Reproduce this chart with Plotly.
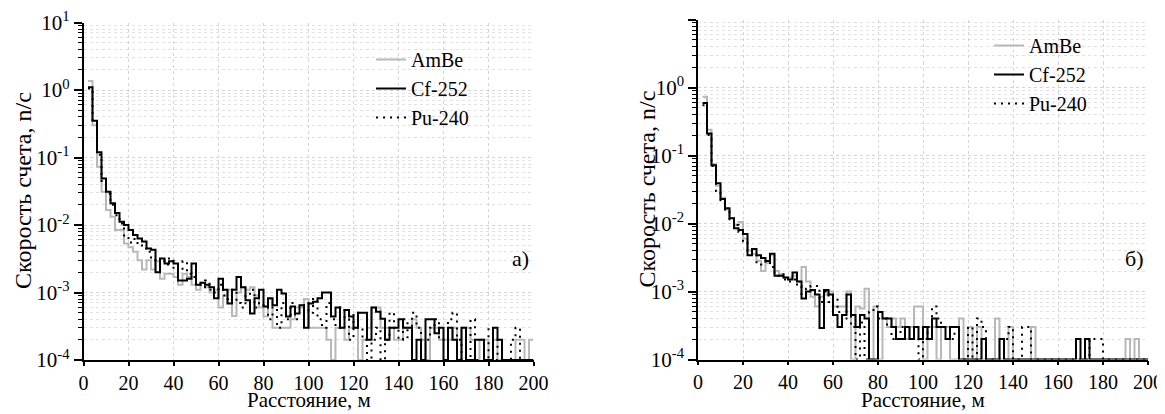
import plotly.graph_objects as go

# ---------------- data (2 m bins starting at 2 m) ----------------
BIN_START = 2
BIN_WIDTH = 2

# Panel a)
a_ambe = [1.36, 0.30, 0.073, 0.031, 0.0167, 0.0133, 0.0084, 0.0084, 0.0053, 0.0047,
          0.0040, 0.0030, 0.0022, 0.0030, 0.0022, 0.0029, 0.0016, 0.0019, 0.0019, 0.0017,
          0.0013, 0.0019, 0.0017, 0.0013, 0.0011, 0.0014, 0.0012, 0.0010, 0.0011, 0.0006,
          0.0009, 0.0011, 0.00045, 0.0010, 0.0012, 0.0011, 0.0012, 0.0009, 0.0006, 0.00044,
          0.0008, 0.0003, 0.0003, 0.0003, 0.0003, 0.0004, 0.0006, 0.0006, 0.0008, 0.0003,
          0.0003, 0.0003, 0.0003, 0.0002, 0.0001, 0.0003, 0.0003, 0.0002, 0.0003, 0.0003,
          0.0001, 0.0002, 0.0003, 0.0006, 0.0006, 0.0003, 0.0003, 0.0003, 0.0002, 0.0002,
          0.0003, 0.0003, 0.0004, 0.0003, 0.0002, 0.0001, 0.0003, 0.0003, 0.0002, 0.0002,
          0.0002, 0.0003, 0.0001, 0.0003, 0.0003, 0.0002, 0.0001, 0.0002, 0.0002, 0.0001,
          0.0002, 0.0001, 0.0001, 0.0001, 0.0001, 0.0002, 0.0002, 0.0001, 0.0002]
a_cf252 = [1.1, 0.35, 0.12, 0.049, 0.031, 0.021, 0.015, 0.0112, 0.0100, 0.0084,
           0.0071, 0.0063, 0.0057, 0.0045, 0.0043, 0.0020, 0.0032, 0.0027, 0.0029, 0.0027,
           0.0015, 0.0015, 0.0016, 0.0027, 0.0013, 0.0014, 0.0013, 0.0012, 0.00082, 0.0016,
           0.0011, 0.00069, 0.0011, 0.0017, 0.0012, 0.00077, 0.00049, 0.00082, 0.0011, 0.00062,
           0.00082, 0.00065, 0.0011, 0.00097, 0.00044, 0.00062, 0.00049, 0.00065, 0.00030, 0.00069,
           0.00073, 0.00082, 0.0010, 0.0010, 0.00044, 0.00060, 0.00030, 0.00055, 0.00044, 0.00030,
           0.00050, 0.00050, 0.00020, 0.00060, 0.00052, 0.00041, 0.00020, 0.00030, 0.00030, 0.00040,
           0.00030, 0.00030, 0.0001, 0.00020, 0.0001, 0.00040, 0.00040, 0.00025, 0.00030, 0.0001,
           0.00030, 0.00020, 0.0001, 0.00030, 0.0001, 0.0001, 0.00020, 0.00020, 0.0001, 0.0001,
           0.00030, 0.00020, 0.0001, 0.0001, 0.0001, 0.0001, 0.0001, 0.0001, 0.0001]
a_pu240 = [1.05, 0.34, 0.11, 0.045, 0.029, 0.020, 0.014, 0.0105, 0.0070, 0.0055,
           0.0062, 0.0052, 0.0045, 0.0040, 0.0030, 0.0028, 0.0030, 0.0026, 0.0032, 0.0022,
           0.0021, 0.0029, 0.0019, 0.0017, 0.0014, 0.0012, 0.0015, 0.0011, 0.0010, 0.0013,
           0.0009, 0.0008, 0.0011, 0.0007, 0.0006, 0.0009, 0.0011, 0.0006, 0.0007, 0.0006,
           0.0004, 0.0006, 0.0003, 0.0007, 0.0004, 0.0007, 0.0004, 0.0004, 0.0007, 0.0005,
           0.0008, 0.0004, 0.0003, 0.0007, 0.0004, 0.0003, 0.0006, 0.0004, 0.0002, 0.0005,
           0.0003, 0.0002, 0.0001, 0.0002, 0.0003, 0.0001, 0.0002, 0.0005, 0.0003, 0.0002,
           0.0004, 0.0002, 0.0005, 0.0003, 0.0002, 0.0002, 0.0003, 0.0004, 0.0002, 0.0002,
           0.0004, 0.0005, 0.0002, 0.0001, 0.0001, 0.0004, 0.0001, 0.0001, 0.0001, 0.0003,
           0.0001, 0.0002, 0.0001, 0.0001, 0.0002, 0.0003, 0.0001, 0.0001, 0.0001]

# Panel б)
b_ambe = [0.73, 0.24, 0.075, 0.036, 0.024, 0.016, 0.012, 0.0095, 0.0105, 0.0060,
          0.0040, 0.0036, 0.0028, 0.0020, 0.0026, 0.0034, 0.0020, 0.0018, 0.0016, 0.0016,
          0.0017, 0.0014, 0.0023, 0.0014, 0.00084, 0.0006, 0.00084, 0.0009, 0.0010, 0.0006,
          0.0006, 0.0006, 0.0010, 0.0001, 0.0006, 0.00056, 0.0011, 0.0001, 0.0006, 0.0001,
          0.0004, 0.0003, 0.0004, 0.0003, 0.0004, 0.0002, 0.0003, 0.0006, 0.0006, 0.0001,
          0.0003, 0.0003, 0.0001, 0.0003, 0.0003, 0.0001, 0.0001, 0.0004, 0.0001, 0.0003,
          0.0001, 0.0003, 0.0001, 0.0001, 0.0001, 0.0004, 0.0001, 0.0001, 0.0003, 0.0001,
          0.0001, 0.0001, 0.0001, 0.0003, 0.0001, 0.0001, 0.0001, 0.0001, 0.0001, 0.0001,
          0.0001, 0.0001, 0.0001, 0.0001, 0.0001, 0.0001, 0.0001, 0.0001, 0.0001, 0.0001,
          0.0001, 0.0001, 0.0001, 0.0001, 0.0002, 0.0001, 0.0002, 0.0001, 0.0001]
b_cf252 = [0.59, 0.21, 0.072, 0.039, 0.023, 0.0167, 0.0119, 0.0085, 0.0080, 0.0070,
           0.0034, 0.0042, 0.0034, 0.0031, 0.0028, 0.0036, 0.0017, 0.0017, 0.0016, 0.0015,
           0.0019, 0.0014, 0.00079, 0.0010, 0.00105, 0.0009, 0.00029, 0.00105, 0.0009, 0.00045,
           0.0003, 0.00045, 0.0009, 0.00045, 0.0003, 0.00045, 0.0004, 0.0001, 0.0001, 0.0005,
           0.0004, 0.0004, 0.0003, 0.0002, 0.0002, 0.0003, 0.0002, 0.0003, 0.0002, 0.0003,
           0.0002, 0.0004, 0.0003, 0.0003, 0.0002, 0.0003, 0.0003, 0.0001, 0.0001, 0.0001,
           0.0001, 0.0001, 0.0002, 0.0001, 0.0001, 0.0001, 0.0002, 0.0001, 0.0001, 0.0001,
           0.0001, 0.0001, 0.0001, 0.0001, 0.0001, 0.0001, 0.0001, 0.0001, 0.0001, 0.0001,
           0.0001, 0.0001, 0.0001, 0.0002, 0.0001, 0.0002, 0.0001, 0.0001, 0.0001, 0.0001,
           0.0001, 0.0001, 0.0001, 0.0001, 0.0001, 0.0001, 0.0001, 0.0001, 0.0001]
b_pu240 = [0.55, 0.20, 0.070, 0.030, 0.022, 0.016, 0.0115, 0.0095, 0.0075, 0.0055,
           0.0040, 0.0036, 0.0026, 0.0025, 0.0028, 0.0023, 0.0017, 0.0018, 0.0015, 0.0014,
           0.0015, 0.0012, 0.00085, 0.0011, 0.0012, 0.0012, 0.0007, 0.0010, 0.0007, 0.0008,
           0.0005, 0.0004, 0.00055, 0.0003, 0.0001, 0.00035, 0.0001, 0.0005, 0.0006, 0.0004,
           0.0004, 0.0003, 0.0002, 0.0002, 0.0003, 0.0002, 0.0002, 0.0002, 0.0001, 0.0002,
           0.0003, 0.0006, 0.0004, 0.0003, 0.0003, 0.0002, 0.0003, 0.0001, 0.0001, 0.0003,
           0.0001, 0.0004, 0.0003, 0.0001, 0.0001, 0.0001, 0.0001, 0.0002, 0.0003, 0.0001,
           0.0001, 0.0003, 0.0003, 0.0001, 0.0001, 0.0001, 0.0001, 0.0001, 0.0001, 0.0001,
           0.0001, 0.0001, 0.0001, 0.0001, 0.0001, 0.0001, 0.0002, 0.0002, 0.0002, 0.0001,
           0.0001, 0.0001, 0.0001, 0.0001, 0.0001, 0.0001, 0.0001, 0.0001, 0.0001]

series_names = ["AmBe", "Cf-252", "Pu-240"]
x_ticks = [0, 20, 40, 60, 80, 100, 120, 140, 160, 180, 200]
y_ticks = [1e-4, 1e-3, 1e-2, 1e-1, 1e0, 1e1]
y_ticktext = ["10<sup>-4</sup>", "10<sup>-3</sup>", "10<sup>-2</sup>",
              "10<sup>-1</sup>", "10<sup>0</sup>", "10<sup>1</sup>"]
y_minor = [k * d for d in [1e-4, 1e-3, 1e-2, 1e-1, 1e0] for k in range(2, 10)]

x_title = "Расстояние, м"
y_title = "Скорость счета, n/с"
panel_labels = ["а)", "б)"]

# ---------------- styling ----------------
FONT = "Liberation Serif, Times New Roman, serif"
styles = [
    dict(color="#b8b8b8", width=2, dash="solid"),
    dict(color="#000000", width=2, dash="solid"),
    dict(color="#000000", width=2, dash="2px,5px"),
]

# The page body has an 8 px margin: the figure is drawn from (8, 8) on screen.
OFF = 8
W, H = 1165 - OFF, 414 - OFF


def px(sx):
    return (sx - OFF) / W


def py(sy):
    return (H - (sy - OFF)) / H


def steps(vals):
    edges = [BIN_START + BIN_WIDTH * i for i in range(len(vals) + 1)]
    return edges, list(vals) + [vals[-1]]


fig = go.Figure()
panels = [(a_ambe, a_cf252, a_pu240), (b_ambe, b_cf252, b_pu240)]
for p, series in enumerate(panels):
    xa = "x" if p == 0 else "x2"
    ya = "y" if p == 0 else "y2"
    lg = "legend" if p == 0 else "legend2"
    for name, vals, st in zip(series_names, series, styles):
        xs, ys = steps(vals)
        fig.add_trace(go.Scatter(
            x=xs, y=ys, mode="lines", name=name, line_shape="hv",
            line=st, xaxis=xa, yaxis=ya, legend=lg,
        ))

grid_col = "#d4d4d4"
xcommon = dict(
    range=[0, 200], tickmode="array", tickvals=x_ticks, ticks="outside",
    ticklen=4, tickwidth=1.5, tickcolor="black", showline=True, linecolor="black",
    linewidth=1.5, showgrid=True, gridcolor=grid_col, griddash="dot", gridwidth=1,
    zeroline=False, tickfont=dict(family=FONT, size=20, color="black"),
)
ycommon = dict(
    type="log", range=[-4, 1], tickmode="array", tickvals=y_ticks, ticktext=y_ticktext,
    ticks="outside", ticklen=8, tickwidth=1.5, tickcolor="black", showline=True,
    linecolor="black", linewidth=1.5, showgrid=True, gridcolor=grid_col, griddash="dot",
    gridwidth=1, zeroline=False, tickfont=dict(family=FONT, size=21, color="black"),
    minor=dict(tickmode="array", tickvals=y_minor, ticks="outside", ticklen=4,
               tickwidth=1, tickcolor="black", showgrid=True, gridcolor="#e2e2e2",
               griddash="dot", gridwidth=1),
)

fig.update_layout(
    width=W, height=H, template="none",
    paper_bgcolor="white", plot_bgcolor="white",
    margin=dict(l=0, r=0, t=0, b=0),
    font=dict(family=FONT, size=20, color="black"),
    xaxis=dict(domain=[px(83.5), px(533.5)], anchor="y", **xcommon),
    yaxis=dict(domain=[py(360), py(22.5)], anchor="x", **ycommon),
    xaxis2=dict(domain=[px(698), px(1148)], anchor="y2", **xcommon),
    yaxis2=dict(domain=[py(359.5), py(19.5)], anchor="x2", **ycommon),
    legend=dict(x=px(371), y=py(40), xanchor="left", yanchor="top",
                bgcolor="rgba(0,0,0,0)", font=dict(family=FONT, size=20),
                tracegroupgap=0, itemwidth=30),
    legend2=dict(x=px(989), y=py(26), xanchor="left", yanchor="top",
                 bgcolor="rgba(0,0,0,0)", font=dict(family=FONT, size=20),
                 tracegroupgap=0, itemwidth=30),
    showlegend=True,
)

ann = [
    dict(text=y_title, x=px(23), y=py(191), textangle=-90, font=dict(family=FONT, size=24)),
    dict(text=y_title, x=px(646), y=py(189.5), textangle=-90, font=dict(family=FONT, size=24)),
    dict(text=x_title, x=px(308.5), y=py(400), font=dict(family=FONT, size=21)),
    dict(text=x_title, x=px(923), y=py(400), font=dict(family=FONT, size=21)),
    dict(text=panel_labels[0], x=px(520), y=py(258), font=dict(family=FONT, size=22)),
    dict(text=panel_labels[1], x=px(1134), y=py(258), font=dict(family=FONT, size=22)),
]
for a in ann:
    a.update(xref="paper", yref="paper", showarrow=False,
             xanchor="center", yanchor="middle")
fig.update_layout(annotations=ann)

fig.write_html("out.html")
